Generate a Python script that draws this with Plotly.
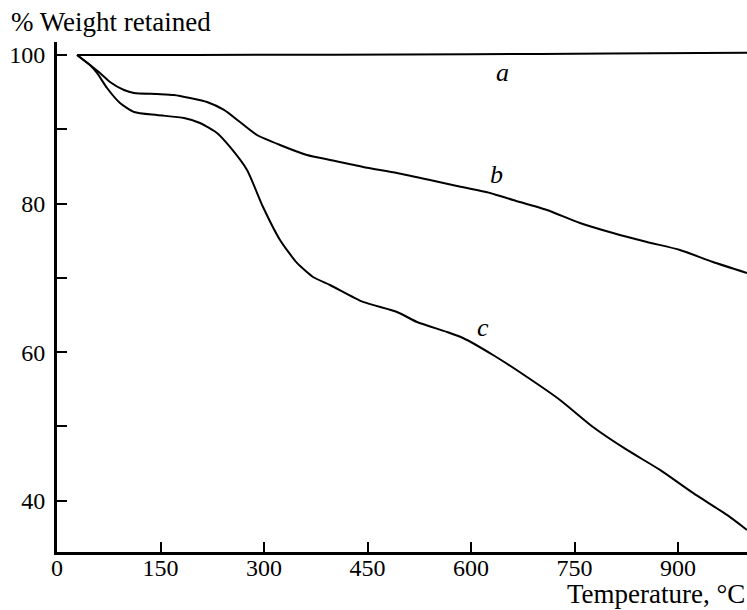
import plotly.graph_objects as go

# Curve a
a_T = [29, 200, 400, 600, 800, 1000]
a_W = [100.0, 100.0, 100.05, 100.1, 100.2, 100.3]

# Curve b
b_T = [29, 47.8, 62.3, 76.8, 97.1, 111.6, 144.9, 169.6, 192.8, 217.4, 242, 265.2, 289.9,
       323.2, 362.3, 395.7, 443.5, 492.8, 540.6, 579.7, 627.5, 660.9, 710.1, 757.9,
       805.8, 855.1, 902.9, 950.7, 1000]
b_W = [100, 98.65, 97.58, 96.37, 95.29, 94.89, 94.75, 94.62, 94.21, 93.67, 92.6, 90.98, 89.23,
       87.89, 86.54, 85.87, 84.93, 84.12, 83.18, 82.37, 81.43, 80.49, 79.14, 77.39,
       76.04, 74.83, 73.76, 72.14, 70.66]

# Curve c
c_T = [29, 47.8, 58, 72.5, 91.3, 111.6, 144.9, 184.1, 207.2, 231.9, 250.7, 275.4, 298.6,
       323.2, 347.8, 371, 395.7, 443.5, 492.8, 521.7, 565.2, 588.4, 631.9, 681.2, 729,
       776.8, 826.1, 873.9, 921.7, 971, 1000]
c_W = [100, 98.65, 97.58, 95.56, 93.54, 92.33, 91.92, 91.52, 90.85, 89.5, 87.62, 84.52, 79.54,
       75.1, 72.01, 70.12, 69.04, 66.76, 65.41, 64.06, 62.72, 61.91, 59.62, 56.66, 53.57,
       49.93, 46.84, 44.15, 41.05, 38.09, 36.07]

x_ticks = [0, 150, 300, 450, 600, 750, 900]
y_ticks = [40, 50, 60, 70, 80, 90, 100]
y_ticktext = ["40", "", "60", "", "80", "", "100"]

labels = ["a", "b", "c"]
label_T = [645, 637, 617]
label_W = [97.6, 83.85, 63.3]

FONT = "Liberation Serif, Times New Roman, serif"

fig = go.Figure()
for T, W in [(a_T, a_W), (b_T, b_W), (c_T, c_W)]:
    fig.add_trace(go.Scatter(x=T, y=W, mode="lines",
                             line=dict(color="black", width=2, shape="spline", smoothing=0.6),
                             showlegend=False, hoverinfo="skip"))

for lab, t, w in zip(labels, label_T, label_W):
    fig.add_annotation(x=t, y=w, xref="x", yref="y", text="<i>%s</i>" % lab,
                       showarrow=False, font=dict(family=FONT, size=26, color="black"))

fig.add_annotation(x=-0.07, y=1.04, xref="paper", yref="paper", text="% Weight retained",
                   showarrow=False, xanchor="left", yanchor="middle",
                   font=dict(family=FONT, size=27, color="black"))
fig.add_annotation(x=1.0, y=-0.083, xref="paper", yref="paper", text="Temperature, °C",
                   showarrow=False, xanchor="right", yanchor="middle",
                   font=dict(family=FONT, size=27, color="black"))

fig.update_layout(
    width=747, height=610,
    margin=dict(l=57, r=0, t=42, b=58),
    paper_bgcolor="white", plot_bgcolor="white",
    font=dict(family=FONT, size=24, color="black"),
    xaxis=dict(range=[0, 1000], tickvals=x_ticks, ticks="inside", ticklen=10, tickwidth=2,
               tickcolor="black", showline=True, linewidth=3, linecolor="black",
               showgrid=False, zeroline=False, ticklabelstandoff=-8),
    yaxis=dict(range=[33.1, 101.75], tickvals=y_ticks, ticktext=y_ticktext, ticks="inside",
               ticklen=10, tickwidth=2, tickcolor="black", showline=True, linewidth=3,
               linecolor="black", showgrid=False, zeroline=False, ticklabelstandoff=4),
)

fig.write_html("out.html", config={"displayModeBar": False},
               post_script="document.body.style.margin='0';document.body.style.overflow='hidden';")
